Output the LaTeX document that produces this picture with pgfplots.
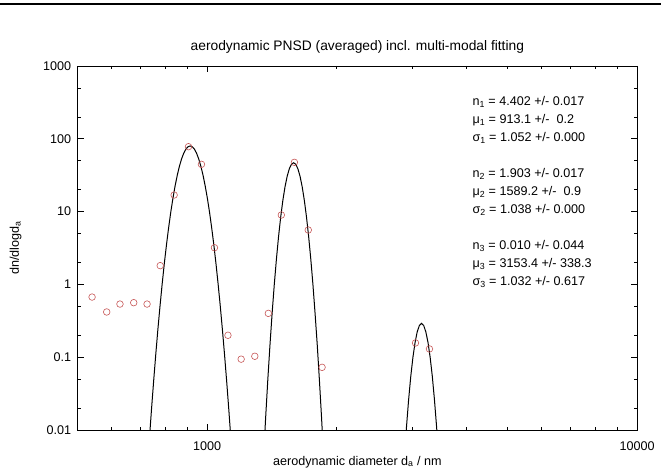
\documentclass[border=0pt]{standalone}
\usepackage{fontspec}
\setmainfont{Liberation Sans}
\usepackage{pgfplots}
\pgfplotsset{compat=1.18}
\definecolor{ptred}{RGB}{198,86,86}
\newcommand\gf{\fontsize{12.6pt}{15pt}\selectfont}
\newcommand\tf{\fontsize{13.8pt}{16pt}\selectfont}

\pgfplotstableread{
x y
540 0.67
584 0.418
627 0.537
675 0.561
725 0.537
778 1.81
838 16.9
905 77.9
970 44.6
1040 3.19
1118 0.20
1200 0.094
1291 0.103
1388 0.40
1488 8.98
1596 47.5
1719 5.58
1851 0.0726
3053 0.157
3290 0.13
}\measured

\pgfplotstableread{
x y
733.7 0.007222
742.2 0.01875
750.8 0.04624
759.5 0.1083
768.3 0.2409
777.2 0.5090
786.2 1.021
795.3 1.946
804.5 3.521
813.8 6.051
823.2 9.877
832.8 15.31
842.4 22.54
852.2 31.52
862.0 41.86
872.0 52.80
882.1 63.25
892.3 71.95
902.6 77.74
913.1 79.77
923.7 77.74
934.4 71.95
945.2 63.25
956.1 52.80
967.2 41.86
978.4 31.52
989.7 22.54
1001.2 15.31
1012.8 9.877
1024.5 6.051
1036.4 3.521
1048.4 1.946
1060.5 1.021
1072.8 0.5090
1085.2 0.2409
1097.8 0.1083
1110.5 0.04624
1123.4 0.01875
1136.4 0.007222
}\modeone

\pgfplotstableread{
x y
1352.6 0.004125
1368.3 0.01492
1384.1 0.04912
1400.2 0.1469
1416.4 0.3996
1432.8 0.9882
1449.4 2.221
1466.1 4.538
1483.1 8.432
1500.3 14.24
1517.7 21.87
1535.3 30.53
1553.0 38.74
1571.0 44.69
1589.2 46.87
1607.6 44.69
1626.2 38.74
1645.0 30.53
1664.1 21.87
1683.4 14.24
1702.9 8.432
1722.6 4.538
1742.5 2.221
1762.7 0.9882
1783.1 0.3996
1803.8 0.1469
1824.6 0.04912
1845.8 0.01492
1867.2 0.004125
}\modetwo

\pgfplotstableread{
x y
2875.9 0.004057
2909.2 0.01106
2942.9 0.02633
2977.0 0.05492
3011.5 0.10016
3046.3 0.15987
3081.6 0.22326
3117.3 0.27279
3153.4 0.29163
3189.9 0.27279
3226.8 0.22326
3264.2 0.15987
3302.0 0.10016
3340.2 0.05492
3378.9 0.02633
3418.1 0.01106
3457.6 0.004057
}\modethree

\begin{document}
\begin{tikzpicture}
\path[use as bounding box] (-77.7pt,-46pt) rectangle (583.3pt,430pt);
\draw[line width=1.5pt] (-77.7pt,426pt) -- (583.3pt,426pt);
\begin{axis}[
  at={(0,0)}, anchor=south west,
  scale only axis, width=559.3pt, height=364pt,
  xmode=log, ymode=log,
  xmin=500, xmax=10000, ymin=0.01, ymax=1000,
  xtick={1000,10000}, xticklabels={1000,10000},
  ytick={0.01,0.1,1,10,100,1000}, yticklabels={0.01,0.1,1,10,100,1000},
  minor xtick={600,700,800,900,2000,3000,4000,5000,6000,7000,8000,9000},
  minor ytick={0.02,0.05,0.2,0.5,2,5,20,50,200,500},
  tick align=inside, major tick length=6pt, minor tick length=3pt,
  every tick/.style={black, line width=0.7pt},
  axis line style={line width=0.9pt},
  ticklabel style={font=\gf},
  xticklabel style={yshift=-8pt},
  yticklabel style={xshift=-3pt},
  title={aerodynamic PNSD (averaged) incl. multi-modal fitting},
  title style={font=\tf, at={(axis description cs:0.5,1.026)}, anchor=base},
  xlabel={aerodynamic diameter d\textsubscript{a} / nm},
  xlabel style={font=\gf, at={(axis description cs:0.5,-0.0962)}, anchor=base},
  ylabel={dn/dlogd\textsubscript{a}},
  ylabel style={font=\gf, at={(axis description cs:-0.111,0.5)}, anchor=center},
  clip=true,
]
\addplot[black, line width=1pt, no marks] table[x=x,y=y] {\modeone};
\addplot[black, line width=1pt, no marks] table[x=x,y=y] {\modetwo};
\addplot[black, line width=1pt, no marks] table[x=x,y=y] {\modethree};
\addplot[only marks, mark=o, mark size=3.3pt, ptred, mark options={line width=0.6pt}] table[x=x,y=y] {\measured};

\node[anchor=base west, font=\gf] at (rel axis cs:0.6996,0.8915) {n\textsubscript{1} = 4.402 +/- 0.017};
\node[anchor=base west, font=\gf] at (rel axis cs:0.6996,0.8420) {μ\textsubscript{1} = 913.1 +/- \ 0.2};
\node[anchor=base west, font=\gf] at (rel axis cs:0.6996,0.7926) {σ\textsubscript{1} = 1.052 +/- 0.000};
\node[anchor=base west, font=\gf] at (rel axis cs:0.6996,0.6937) {n\textsubscript{2} = 1.903 +/- 0.017};
\node[anchor=base west, font=\gf] at (rel axis cs:0.6996,0.6442) {μ\textsubscript{2} = 1589.2 +/- \ 0.9};
\node[anchor=base west, font=\gf] at (rel axis cs:0.6996,0.5948) {σ\textsubscript{2} = 1.038 +/- 0.000};
\node[anchor=base west, font=\gf] at (rel axis cs:0.6996,0.4959) {n\textsubscript{3} = 0.010 +/- 0.044};
\node[anchor=base west, font=\gf] at (rel axis cs:0.6996,0.4464) {μ\textsubscript{3} = 3153.4 +/- 338.3};
\node[anchor=base west, font=\gf] at (rel axis cs:0.6996,0.3970) {σ\textsubscript{3} = 1.032 +/- 0.617};
\end{axis}
\end{tikzpicture}
\end{document}
